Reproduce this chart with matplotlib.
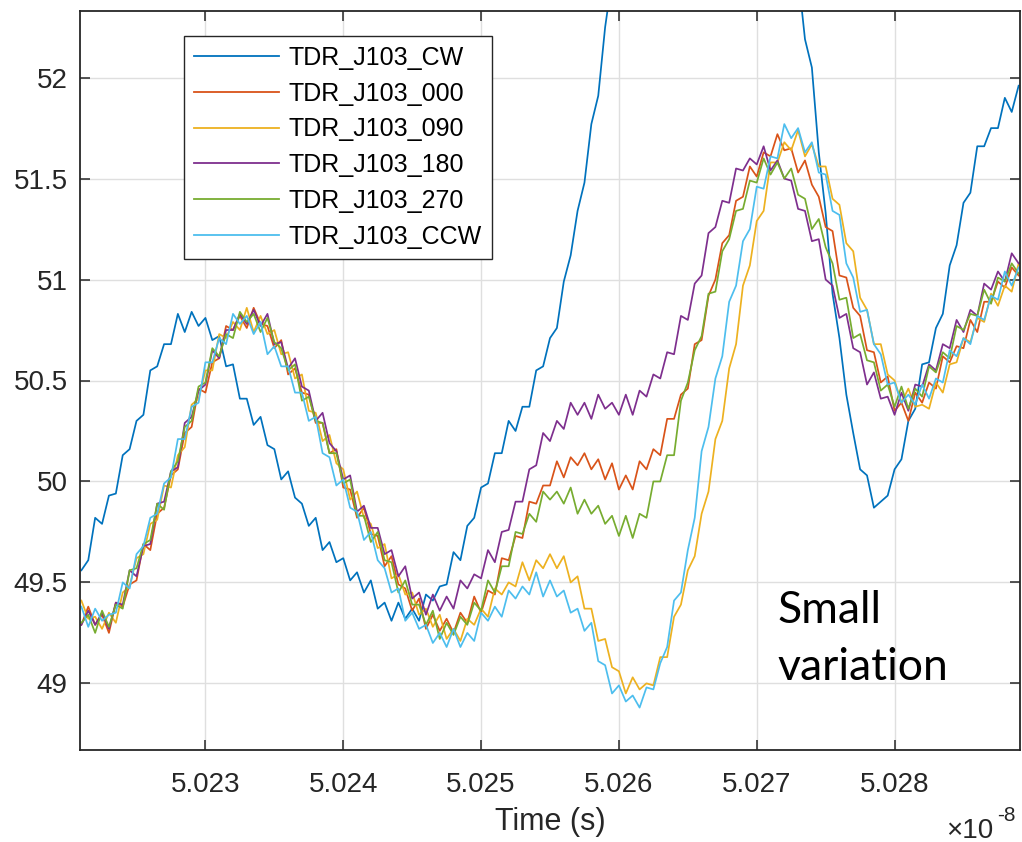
import numpy as np
import matplotlib
matplotlib.use("Agg")
import matplotlib.pyplot as plt

# Sampling of the traces (time in units of 1e-8 s)
t_start = 5.0221
t_step = 0.00005

series_names = ["TDR_J103_CW", "TDR_J103_000", "TDR_J103_090",
                "TDR_J103_180", "TDR_J103_270", "TDR_J103_CCW"]
series_colors = ["#0072BD", "#D95319", "#EDB120", "#7E2F8E", "#77AC30", "#4DBEEE"]

tdr_cw = [49.56, 49.61, 49.82, 49.79, 49.93, 49.94, 50.13, 50.16, 50.30, 50.33,
          50.55, 50.57, 50.68, 50.68, 50.83, 50.74, 50.84, 50.77, 50.81, 50.70,
          50.72, 50.57, 50.58, 50.41, 50.41, 50.28, 50.32, 50.18, 50.16, 50.01,
          50.05, 49.92, 49.89, 49.78, 49.82, 49.66, 49.70, 49.60, 49.62, 49.51,
          49.55, 49.45, 49.51, 49.37, 49.40, 49.31, 49.40, 49.32, 49.37, 49.31,
          49.44, 49.41, 49.48, 49.49, 49.65, 49.61, 49.78, 49.82, 49.97, 49.99,
          50.14, 50.14, 50.30, 50.25, 50.37, 50.37, 50.55, 50.57, 50.71, 50.76,
          50.99, 51.12, 51.34, 51.48, 51.77, 51.91, 52.25, 52.49, 52.84, 53.02,
          53.34, 53.47, 53.76, 53.80, 54.01, 54.04, 54.25, 54.23, 54.33, 54.20,
          54.26, 54.09, 54.02, 53.81, 53.75, 53.44, 53.33, 53.13, 53.04, 52.87,
          52.84, 52.67, 52.66, 52.50, 52.51, 52.19, 52.05, 51.63, 51.33, 50.93,
          50.71, 50.43, 50.24, 50.06, 50.03, 49.87, 49.90, 49.93, 50.06, 50.11,
          50.30, 50.36, 50.58, 50.59, 50.76, 50.83, 51.07, 51.17, 51.38, 51.43,
          51.66, 51.66, 51.75, 51.75, 51.90, 51.83, 51.96]

tdr_000 = [49.29, 49.38, 49.29, 49.34, 49.25, 49.40, 49.38, 49.49, 49.51, 49.69,
           49.66, 49.84, 49.87, 50.03, 50.06, 50.24, 50.27, 50.46, 50.44, 50.59,
           50.61, 50.77, 50.75, 50.82, 50.76, 50.86, 50.78, 50.77, 50.66, 50.70,
           50.53, 50.56, 50.44, 50.43, 50.29, 50.29, 50.14, 50.16, 49.97, 49.96,
           49.82, 49.87, 49.74, 49.73, 49.58, 49.63, 49.49, 49.47, 49.36, 49.42,
           49.27, 49.34, 49.26, 49.32, 49.25, 49.35, 49.30, 49.43, 49.35, 49.46,
           49.44, 49.62, 49.61, 49.73, 49.72, 49.90, 49.89, 49.98, 49.98, 50.10,
           50.02, 50.12, 50.08, 50.14, 50.06, 50.11, 50.01, 50.09, 49.96, 50.03,
           49.96, 50.10, 50.06, 50.16, 50.13, 50.31, 50.31, 50.43, 50.46, 50.68,
           50.70, 50.92, 51.00, 51.18, 51.22, 51.39, 51.41, 51.56, 51.51, 51.63,
           51.61, 51.72, 51.64, 51.65, 51.53, 51.59, 51.47, 51.41, 51.26, 51.24,
           51.02, 51.01, 50.86, 50.82, 50.65, 50.64, 50.49, 50.52, 50.35, 50.39,
           50.30, 50.44, 50.39, 50.49, 50.46, 50.62, 50.59, 50.67, 50.66, 50.80,
           50.74, 50.89, 50.89, 50.99, 50.96, 51.06, 51.02]

tdr_090 = [49.41, 49.32, 49.33, 49.27, 49.35, 49.30, 49.45, 49.48, 49.62, 49.64,
           49.79, 49.81, 49.98, 49.97, 50.13, 50.17, 50.38, 50.41, 50.55, 50.55,
           50.73, 50.71, 50.79, 50.75, 50.86, 50.74, 50.82, 50.73, 50.75, 50.63,
           50.64, 50.51, 50.53, 50.35, 50.34, 50.20, 50.23, 50.09, 50.06, 49.91,
           49.95, 49.82, 49.79, 49.67, 49.69, 49.52, 49.54, 49.44, 49.45, 49.34,
           49.37, 49.28, 49.34, 49.22, 49.27, 49.21, 49.32, 49.29, 49.37, 49.33,
           49.47, 49.44, 49.50, 49.48, 49.60, 49.51, 49.61, 49.57, 49.64, 49.57,
           49.63, 49.50, 49.53, 49.37, 49.37, 49.21, 49.22, 49.08, 49.06, 48.95,
           49.03, 48.97, 49.00, 48.99, 49.13, 49.13, 49.33, 49.39, 49.56, 49.63,
           49.84, 49.95, 50.21, 50.30, 50.56, 50.68, 50.97, 51.07, 51.29, 51.34,
           51.58, 51.58, 51.68, 51.64, 51.74, 51.61, 51.67, 51.56, 51.56, 51.40,
           51.37, 51.18, 51.14, 50.91, 50.85, 50.68, 50.68, 50.53, 50.50, 50.39,
           50.46, 50.37, 50.38, 50.36, 50.49, 50.44, 50.58, 50.59, 50.71, 50.69,
           50.81, 50.79, 50.93, 50.87, 50.97, 50.94, 51.08]

tdr_180 = [49.29, 49.36, 49.29, 49.35, 49.27, 49.40, 49.39, 49.56, 49.53, 49.68,
           49.69, 49.89, 49.90, 50.05, 50.07, 50.29, 50.32, 50.45, 50.48, 50.65,
           50.61, 50.75, 50.75, 50.83, 50.78, 50.85, 50.77, 50.83, 50.68, 50.69,
           50.56, 50.61, 50.47, 50.45, 50.30, 50.34, 50.19, 50.15, 50.01, 50.03,
           49.85, 49.88, 49.77, 49.77, 49.64, 49.66, 49.53, 49.58, 49.42, 49.45,
           49.34, 49.44, 49.36, 49.43, 49.37, 49.51, 49.47, 49.54, 49.52, 49.66,
           49.60, 49.75, 49.76, 49.90, 49.90, 50.06, 50.08, 50.24, 50.20, 50.30,
           50.26, 50.39, 50.33, 50.39, 50.31, 50.43, 50.36, 50.39, 50.33, 50.43,
           50.33, 50.45, 50.42, 50.53, 50.51, 50.64, 50.63, 50.82, 50.80, 50.98,
           51.02, 51.23, 51.26, 51.39, 51.38, 51.55, 51.54, 51.60, 51.57, 51.66,
           51.54, 51.59, 51.50, 51.49, 51.35, 51.34, 51.19, 51.20, 51.00, 50.97,
           50.81, 50.83, 50.66, 50.64, 50.48, 50.54, 50.41, 50.42, 50.33, 50.44,
           50.35, 50.48, 50.47, 50.58, 50.55, 50.68, 50.66, 50.80, 50.74, 50.85,
           50.82, 50.98, 50.95, 51.04, 50.99, 51.13, 51.08]

tdr_270 = [49.30, 49.34, 49.25, 49.36, 49.28, 49.39, 49.37, 49.56, 49.57, 49.69,
           49.71, 49.89, 49.86, 50.05, 50.10, 50.27, 50.30, 50.47, 50.49, 50.66,
           50.62, 50.73, 50.71, 50.84, 50.79, 50.83, 50.74, 50.81, 50.69, 50.66,
           50.55, 50.58, 50.40, 50.42, 50.30, 50.29, 50.14, 50.14, 49.99, 50.01,
           49.83, 49.83, 49.70, 49.75, 49.61, 49.60, 49.45, 49.51, 49.39, 49.39,
           49.29, 49.36, 49.22, 49.30, 49.24, 49.33, 49.29, 49.40, 49.36, 49.51,
           49.45, 49.58, 49.58, 49.75, 49.74, 49.84, 49.80, 49.95, 49.91, 49.95,
           49.89, 49.97, 49.84, 49.91, 49.84, 49.88, 49.79, 49.83, 49.73, 49.83,
           49.72, 49.84, 49.82, 50.00, 50.00, 50.13, 50.13, 50.40, 50.49, 50.65,
           50.72, 50.93, 50.94, 51.14, 51.20, 51.34, 51.35, 51.49, 51.48, 51.60,
           51.52, 51.58, 51.50, 51.55, 51.42, 51.40, 51.25, 51.30, 51.16, 51.08,
           50.90, 50.91, 50.71, 50.73, 50.60, 50.59, 50.45, 50.48, 50.37, 50.47,
           50.36, 50.46, 50.42, 50.57, 50.54, 50.64, 50.61, 50.77, 50.75, 50.83,
           50.82, 50.95, 50.88, 51.01, 50.99, 51.08, 51.03]

tdr_ccw = [49.38, 49.28, 49.37, 49.31, 49.34, 49.35, 49.50, 49.47, 49.64, 49.68,
           49.82, 49.84, 49.99, 50.02, 50.21, 50.21, 50.37, 50.39, 50.59, 50.59,
           50.71, 50.68, 50.83, 50.78, 50.82, 50.73, 50.79, 50.63, 50.67, 50.57,
           50.57, 50.44, 50.44, 50.30, 50.32, 50.14, 50.12, 49.98, 50.01, 49.87,
           49.85, 49.71, 49.75, 49.61, 49.57, 49.45, 49.47, 49.31, 49.35, 49.27,
           49.29, 49.20, 49.25, 49.18, 49.27, 49.18, 49.25, 49.21, 49.35, 49.31,
           49.38, 49.33, 49.46, 49.42, 49.48, 49.44, 49.55, 49.43, 49.51, 49.43,
           49.46, 49.35, 49.37, 49.26, 49.30, 49.11, 49.09, 48.95, 48.99, 48.91,
           48.94, 48.88, 48.98, 48.97, 49.10, 49.18, 49.41, 49.45, 49.66, 49.82,
           50.15, 50.27, 50.51, 50.62, 50.89, 50.97, 51.19, 51.25, 51.46, 51.45,
           51.61, 51.60, 51.77, 51.70, 51.75, 51.63, 51.68, 51.53, 51.52, 51.34,
           51.32, 51.08, 51.01, 50.84, 50.85, 50.68, 50.63, 50.48, 50.49, 50.39,
           50.43, 50.38, 50.48, 50.41, 50.51, 50.49, 50.65, 50.62, 50.71, 50.68,
           50.82, 50.80, 50.92, 50.90, 51.04, 50.97, 51.06]

series_values = [tdr_cw, tdr_000, tdr_090, tdr_180, tdr_270, tdr_ccw]

x_ticks = [5.023, 5.024, 5.025, 5.026, 5.027, 5.028]
x_tick_labels = ["5.023", "5.024", "5.025", "5.026", "5.027", "5.028"]
y_ticks = [49, 49.5, 50, 50.5, 51, 51.5, 52]
y_tick_labels = ["49", "49.5", "50", "50.5", "51", "51.5", "52"]

FONT = "Liberation Sans"
DARK = "#262626"

W, H = 1022, 842
fig = plt.figure(figsize=(W / 100, H / 100), dpi=100)
ax = fig.add_axes([80 / W, 1 - 750 / H, 940 / W, 739 / H])

for name, vals, col in zip(series_names, series_values, series_colors):
    t = t_start + t_step * np.arange(len(vals))
    ax.plot(t, vals, color=col, lw=1.25, label=name)

ax.set_xlim(5.02209, 5.02891)
ax.set_ylim(48.67, 52.33)
ax.set_xticks(x_ticks)
ax.set_xticklabels(x_tick_labels)
ax.set_yticks(y_ticks)
ax.set_yticklabels(y_tick_labels)

ax.grid(True, color="#dfdfdf", lw=1.0)
ax.set_axisbelow(True)
for sp in ax.spines.values():
    sp.set_color(DARK)
    sp.set_linewidth(1.3)

ax.tick_params(direction="in", length=7.5, width=1.1, color=DARK,
               top=True, right=True, labelsize=20, labelcolor=DARK)
ax.tick_params(axis="y", pad=9)
ax.tick_params(axis="x", pad=16)
for lab in ax.get_xticklabels() + ax.get_yticklabels():
    lab.set_fontfamily(FONT)

ax.set_xlabel("Time (s)", fontsize=22, family=FONT, color=DARK, labelpad=6)

leg = ax.legend(loc="upper left", bbox_to_anchor=(0.1106, 0.9662),
                borderaxespad=0, handlelength=3.4,
                handletextpad=0.4, labelspacing=0.47, borderpad=0.4,
                fancybox=False, framealpha=1, edgecolor=DARK,
                prop={"family": FONT, "size": 18})
leg.get_frame().set_linewidth(1.0)
for ln in leg.get_lines():
    ln.set_linewidth(1.3)

# annotation
ax.text((777 - 80) / 940, (750 - 623) / 739, "Small", transform=ax.transAxes,
        fontsize=32, family="Lato", color="black", ha="left", va="baseline")
ax.text((777 - 80) / 940, (750 - 680) / 739, "variation", transform=ax.transAxes,
        fontsize=32, family="Lato", color="black", ha="left", va="baseline")

# exponent marker
fig.text(946 / W, 1 - 838 / H, "\u00d710", fontsize=20, family=FONT,
         color=DARK, ha="left", va="baseline")
fig.text(997 / W, 1 - 821 / H, "-8", fontsize=15, family=FONT,
         color=DARK, ha="left", va="baseline")

fig.savefig("out.png", dpi=100)
